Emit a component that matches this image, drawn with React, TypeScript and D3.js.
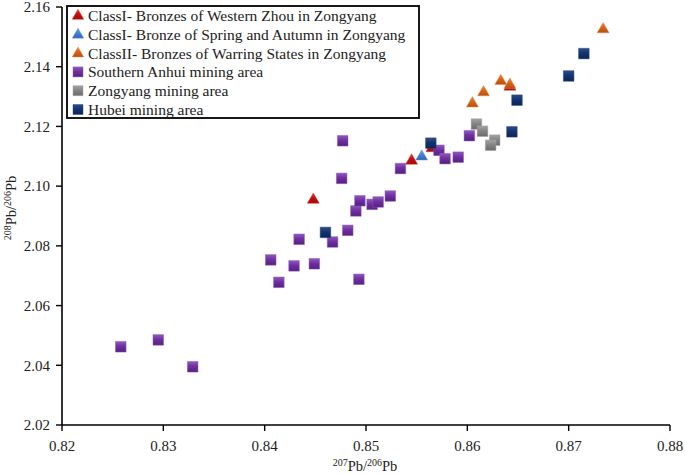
import React from "react";
import * as d3 from "d3";

const W = 685;
const H = 474;

const xTicks = [0.82, 0.83, 0.84, 0.85, 0.86, 0.87, 0.88];
const yTicks = [2.02, 2.04, 2.06, 2.08, 2.1, 2.12, 2.14, 2.16];

const legendLabels = [
  "ClassI- Bronzes of Western Zhou in Zongyang",
  "ClassI- Bronze of Spring and Autumn in Zongyang",
  "ClassII- Bronzes of Warring States in Zongyang",
  "Southern Anhui mining area",
  "Zongyang mining area",
  "Hubei mining area",
];

const westernZhou: [number, number][] = [
  [0.8448, 2.0954],
  [0.8545, 2.1085],
  [0.8565, 2.1127],
  [0.8642, 2.1333],
];

const springAutumn: [number, number][] = [[0.8555, 2.1099]];

const warringStates: [number, number][] = [
  [0.8734, 2.1525],
  [0.8633, 2.1352],
  [0.8642, 2.1339],
  [0.8616, 2.1314],
  [0.8605, 2.1277],
];

const southernAnhui: [number, number][] = [
  [0.8258, 2.0462],
  [0.8295, 2.0485],
  [0.8329, 2.0395],
  [0.8406, 2.0753],
  [0.8414, 2.0678],
  [0.8429, 2.0733],
  [0.8434, 2.0822],
  [0.8449, 2.074],
  [0.8467, 2.0813],
  [0.8477, 2.1152],
  [0.8476, 2.1026],
  [0.8482, 2.0852],
  [0.849, 2.0917],
  [0.8493, 2.0688],
  [0.8494, 2.0951],
  [0.8506, 2.0939],
  [0.8512, 2.0947],
  [0.8524, 2.0967],
  [0.8534, 2.1059],
  [0.8572, 2.112],
  [0.8578, 2.1092],
  [0.8591, 2.1097],
  [0.8602, 2.1169],
];

const zongyangMine: [number, number][] = [
  [0.8609, 2.1208],
  [0.8615, 2.1184],
  [0.8627, 2.1154],
  [0.8623, 2.1137],
];

const hubeiMine: [number, number][] = [
  [0.846, 2.0845],
  [0.8564, 2.1144],
  [0.8644, 2.1182],
  [0.8649, 2.1288],
  [0.87, 2.1369],
  [0.8715, 2.1444],
];

const seriesData = [westernZhou, springAutumn, warringStates, southernAnhui, zongyangMine, hubeiMine];
const seriesShapes = ["triangle", "triangle", "triangle", "square", "square", "square"];
const seriesColors = ["#c81010", "#4a84d4", "#d8661c", "#7030a0", "#858585", "#15336e"];
const seriesDark = ["#a00808", "#2f64b4", "#b9500e", "#55207f", "#6a6a6a", "#0c2557"];
const seriesLight = ["#e03a3a", "#76a4e4", "#ec8a48", "#9058c0", "#a3a3a3", "#2c4c8a"];

const FONT = "Liberation Serif, Times New Roman, serif";

export default function App() {
  const x = d3.scaleLinear().domain([0.82, 0.88]).range([62, 670]);
  const y = d3.scaleLinear().domain([2.02, 2.16]).range([425, 7]);

  const tri = d3.symbol(d3.symbolTriangle, 62)() as string;
  const sq = d3.symbol(d3.symbolSquare, 112)() as string;
  const triSmall = d3.symbol(d3.symbolTriangle, 58)() as string;
  const sqSmall = d3.symbol(d3.symbolSquare, 100)() as string;

  const legendRowY = (i: number) => 15.5 + i * 18.8;
  const ts = { fontFamily: FONT };

  return (
    <svg
      width={W}
      height={H}
      viewBox={`0 0 ${W} ${H}`}
      style={{ position: "absolute", left: 0, top: 0, background: "#fff", fontFamily: FONT }}
    >
      <defs>
        {seriesColors.map((c, i) => (
          <linearGradient key={i} id={`g${i}`} x1="0" y1="0" x2="0" y2="1">
            <stop offset="0%" stopColor={seriesLight[i]} />
            <stop offset="45%" stopColor={c} />
            <stop offset="100%" stopColor={seriesDark[i]} />
          </linearGradient>
        ))}
      </defs>
      <rect x={0} y={0} width={W} height={H} fill="#fff" />

      {/* axes */}
      <line x1={62} y1={y(2.16)} x2={62} y2={425} stroke="#000" strokeWidth={1.6} />
      <line x1={62} y1={425} x2={670} y2={425} stroke="#000" strokeWidth={1.6} />
      {yTicks.map((t) => (
        <g key={`y${t}`}>
          <line x1={56} x2={62} y1={y(t)} y2={y(t)} stroke="#000" strokeWidth={1.4} />
          <text x={50} y={y(t)} dy="0.35em" textAnchor="end" fontSize={15} fill="#222" style={ts}>
            {t.toFixed(2)}
          </text>
        </g>
      ))}
      {xTicks.map((t) => (
        <g key={`x${t}`}>
          <line x1={x(t)} x2={x(t)} y1={425} y2={431} stroke="#000" strokeWidth={1.4} />
          <text x={x(t)} y={451} textAnchor="middle" fontSize={15} fill="#222" style={ts}>
            {t.toFixed(2)}
          </text>
        </g>
      ))}

      {/* axis titles */}
      <text x={365} y={471} textAnchor="middle" fontSize={14.5} fill="#222" style={ts}>
        <tspan fontSize={10} dy="-5">207</tspan>
        <tspan dy="5">Pb/</tspan>
        <tspan fontSize={10} dy="-5">206</tspan>
        <tspan dy="5">Pb</tspan>
      </text>
      <text
        transform={`translate(16,208) rotate(-90)`}
        textAnchor="middle"
        fontSize={14.5}
        fill="#222"
        style={ts}
      >
        <tspan fontSize={10} dy="-5">208</tspan>
        <tspan dy="5">Pb/</tspan>
        <tspan fontSize={10} dy="-5">206</tspan>
        <tspan dy="5">Pb</tspan>
      </text>

      {/* points */}
      {seriesData.map((pts, si) => (
        <g key={`s${si}`}>
          {pts.map((p, j) => (
            <path
              key={j}
              d={seriesShapes[si] === "triangle" ? tri : sq}
              transform={`translate(${x(p[0])},${y(p[1])})`}
              fill={`url(#g${si})`}
              stroke={seriesLight[si]}
              strokeOpacity={0.6}
              strokeWidth={0.8}
            />
          ))}
        </g>
      ))}

      {/* legend */}
      <rect x={67} y={6} width={352} height={112} fill="#fff" stroke="#000" strokeWidth={1.8} />
      {legendLabels.map((lab, i) => (
        <g key={lab}>
          <path
            d={seriesShapes[i] === "triangle" ? triSmall : sqSmall}
            transform={`translate(78,${legendRowY(i) + (seriesShapes[i] === "triangle" ? 0.5 : 0)})`}
            fill={`url(#g${i})`}
            stroke={seriesLight[i]}
            strokeOpacity={0.6}
            strokeWidth={0.8}
          />
          <text x={88} y={legendRowY(i)} dy="0.35em" fontSize={15.5} fill="#222" style={ts}>
            {lab}
          </text>
        </g>
      ))}
    </svg>
  );
}
